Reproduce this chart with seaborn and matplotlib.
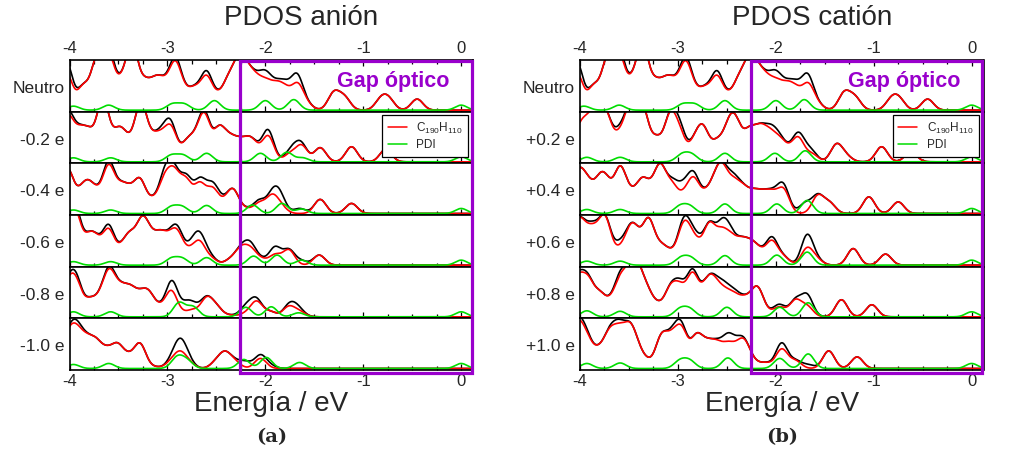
import numpy as np
import pandas as pd
import matplotlib
matplotlib.use("Agg")
import matplotlib.pyplot as plt
import matplotlib.transforms as mtransforms
from matplotlib.patches import Rectangle
from matplotlib.lines import Line2D
import seaborn as sns

# ---------------------------------------------------------------------------
# Electronic levels (energy in eV, weight) for each charge state.
# "_c" = projection on C190H110, "_pdi" = projection on PDI,
# "_extra" = PDI share that is added on top of C190H110 in the total DOS.
# ---------------------------------------------------------------------------
neutro_c = [(-4.03, 0.72), (-3.86, 0.45), (-3.72, 0.95), (-3.60, 1.0), (-3.47, 0.45),
            (-3.36, 1.2), (-3.23, 0.47), (-3.12, 0.48), (-3.03, 0.38), (-2.92, 0.85),
            (-2.82, 0.25), (-2.72, 0.35), (-2.60, 0.62), (-2.48, 0.22), (-2.37, 0.55),
            (-2.26, 0.9), (-2.16, 0.55), (-2.07, 0.4), (-1.98, 0.4), (-1.88, 0.38),
            (-1.79, 0.32), (-1.67, 0.48), (-1.57, 0.1), (-1.30, 0.34), (-1.19, 0.24),
            (-0.82, 0.2), (-0.74, 0.2), (-0.45, 0.22)]
neutro_extra = [(-4.03, 0.22), (-3.60, 0.1), (-2.92, 0.08), (-2.60, 0.09), (-2.00, 0.15),
                (-1.80, 0.06), (-1.69, 0.18)]
neutro_pdi = [(-3.96, 0.08), (-3.60, 0.10), (-2.95, 0.12), (-2.83, 0.12), (-2.52, 0.19),
              (-2.00, 0.19), (-1.71, 0.21), (0.0, 0.10)]

anion_m02_c = [(-4.02, 0.85), (-3.90, 0.5), (-3.80, 0.5), (-3.66, 1.2), (-3.54, 0.3),
               (-3.47, 0.45), (-3.38, 0.25), (-3.27, 1.1), (-3.15, 0.36), (-3.06, 0.38),
               (-2.96, 0.62), (-2.80, 0.35), (-2.71, 0.3), (-2.62, 0.85), (-2.47, 0.62),
               (-2.36, 0.38), (-2.26, 0.32), (-2.16, 0.35), (-2.09, 0.15), (-1.97, 0.5),
               (-1.75, 0.15), (-1.63, 0.32), (-1.44, 0.28), (-1.12, 0.3), (-0.77, 0.25)]
anion_m02_extra = [(-4.0, 0.08), (-3.0, 0.12), (-2.62, 0.05), (-1.98, 0.12), (-1.70, 0.12)]
anion_m02_pdi = [(-3.96, 0.08), (-3.58, 0.08), (-2.96, 0.13), (-2.84, 0.13), (-2.60, 0.17),
                 (-2.05, 0.17), (-1.78, 0.19), (-1.62, 0.08), (0.0, 0.10)]

anion_m04_c = [(-4.02, 0.85), (-3.89, 0.3), (-3.81, 0.45), (-3.72, 0.3), (-3.60, 0.88),
               (-3.48, 0.42), (-3.39, 0.35), (-3.28, 0.62), (-3.15, 0.22), (-3.03, 0.6),
               (-2.93, 0.7), (-2.81, 0.6), (-2.67, 0.55), (-2.54, 0.45), (-2.43, 0.15),
               (-2.33, 0.45), (-2.20, 0.08), (-2.06, 0.2), (-1.93, 0.33), (-1.84, 0.12),
               (-1.44, 0.28), (-1.12, 0.2)]
anion_m04_extra = [(-3.60, 0.08), (-3.0, 0.15), (-2.77, 0.08), (-2.62, 0.1), (-2.50, 0.08),
                   (-2.08, 0.05), (-1.86, 0.22), (-1.65, 0.1)]
anion_m04_pdi = [(-3.96, 0.07), (-3.58, 0.07), (-2.96, 0.13), (-2.85, 0.13), (-2.60, 0.16),
                 (-2.13, 0.17), (-1.83, 0.2), (-1.63, 0.09), (0.0, 0.10)]

anion_m06_c = [(-4.0, 0.6), (-3.93, 0.75), (-3.80, 0.45), (-3.72, 0.35), (-3.60, 0.66),
               (-3.47, 0.25), (-3.38, 0.5), (-3.26, 0.78), (-3.17, 0.4), (-3.07, 0.5),
               (-2.97, 0.38), (-2.89, 0.5), (-2.77, 0.22), (-2.67, 0.42), (-2.55, 0.12),
               (-2.36, 0.1), (-2.25, 0.3), (-2.15, 0.28), (-2.04, 0.1), (-1.90, 0.2),
               (-1.76, 0.3), (-1.45, 0.2)]
anion_m06_extra = [(-3.93, 0.08), (-3.60, 0.08), (-2.90, 0.08), (-2.72, 0.15), (-2.62, 0.1),
                   (-2.16, 0.1), (-1.90, 0.15), (-1.63, 0.08)]
anion_m06_pdi = [(-3.96, 0.07), (-3.58, 0.07), (-2.96, 0.13), (-2.85, 0.13), (-2.60, 0.15),
                 (-2.12, 0.18), (-1.88, 0.2), (-1.63, 0.1), (0.0, 0.10)]

anion_m08_c = [(-4.02, 0.55), (-3.93, 0.6), (-3.79, 0.3), (-3.68, 0.3), (-3.59, 0.78),
               (-3.48, 0.45), (-3.38, 0.45), (-3.28, 0.32), (-3.19, 0.4), (-3.08, 0.15),
               (-2.96, 0.5), (-2.84, 0.05), (-2.74, 0.12), (-2.60, 0.35), (-2.50, 0.18),
               (-2.36, 0.03), (-2.20, 0.06), (-2.09, 0.3), (-1.95, 0.1), (-1.76, 0.2),
               (-1.65, 0.1)]
anion_m08_extra = [(-3.94, 0.08), (-3.59, 0.05), (-2.94, 0.2), (-2.80, 0.18), (-2.70, 0.06),
                   (-2.20, 0.13), (-2.12, 0.05), (-1.70, 0.1)]
anion_m08_pdi = [(-3.96, 0.10), (-3.58, 0.10), (-2.88, 0.28), (-2.74, 0.2), (-2.20, 0.19),
                 (-1.94, 0.2), (-1.66, 0.08), (0.0, 0.10)]

anion_m10_c = [(-4.02, 0.55), (-3.93, 0.6), (-3.83, 0.45), (-3.73, 0.45), (-3.62, 0.3),
               (-3.51, 0.42), (-3.40, 0.2), (-3.28, 0.48), (-3.13, 0.03), (-2.96, 0.12),
               (-2.87, 0.28), (-2.78, 0.1), (-2.50, 0.12), (-2.41, 0.28), (-2.31, 0.12),
               (-2.05, 0.2)]
anion_m10_extra = [(-3.93, 0.08), (-2.90, 0.15), (-2.83, 0.15), (-2.20, 0.12), (-2.05, 0.06),
                   (-1.95, 0.05)]
anion_m10_pdi = [(-3.96, 0.08), (-3.60, 0.10), (-2.90, 0.22), (-2.80, 0.15), (-2.22, 0.18),
                 (-1.99, 0.22), (-1.65, 0.12), (0.0, 0.10)]

cation_p02_c = [(-4.02, 0.5), (-3.93, 0.6), (-3.82, 1.0), (-3.72, 0.7), (-3.59, 0.45),
                (-3.48, 1.0), (-3.36, 1.0), (-3.22, 0.42), (-3.08, 0.85), (-2.98, 0.5),
                (-2.83, 0.35), (-2.74, 0.6), (-2.60, 0.36), (-2.48, 0.6), (-2.40, 0.6),
                (-2.27, 0.55), (-2.16, 0.55), (-2.06, 0.45), (-1.96, 0.35), (-1.87, 0.15),
                (-1.77, 0.45), (-1.63, 0.15), (-1.38, 0.34), (-1.28, 0.1), (-0.92, 0.3),
                (-0.62, 0.2)]
cation_p02_extra = [(-3.97, 0.25), (-3.88, 0.1), (-3.60, 0.07), (-2.98, 0.12), (-2.02, 0.1),
                    (-1.77, 0.06), (-1.68, 0.1)]
cation_p02_pdi = [(-3.93, 0.09), (-3.59, 0.09), (-2.96, 0.14), (-2.86, 0.14), (-2.52, 0.17),
                  (-2.01, 0.17), (-1.70, 0.22), (0.0, 0.10)]

cation_p04_c = [(-4.02, 0.75), (-3.92, 0.5), (-3.80, 0.55), (-3.72, 0.45), (-3.59, 0.85),
                (-3.48, 0.3), (-3.37, 0.55), (-3.28, 0.32), (-3.18, 0.85), (-3.06, 0.5),
                (-2.94, 0.28), (-2.84, 0.62), (-2.72, 0.3), (-2.62, 0.5), (-2.54, 0.7),
                (-2.43, 0.5), (-2.33, 0.4), (-2.22, 0.35), (-2.12, 0.3), (-2.03, 0.3),
                (-1.92, 0.45), (-1.57, 0.35), (-1.45, 0.2), (-1.05, 0.33), (-0.75, 0.23)]
cation_p04_extra = [(-3.0, 0.08), (-2.94, 0.12), (-2.84, 0.08), (-2.45, 0.08), (-1.94, 0.1),
                    (-1.70, 0.2)]
cation_p04_pdi = [(-3.93, 0.08), (-3.59, 0.08), (-2.98, 0.14), (-2.88, 0.14), (-2.52, 0.19),
                  (-1.99, 0.19), (-1.68, 0.26), (0.0, 0.10)]

cation_p06_c = [(-4.02, 0.8), (-3.92, 0.45), (-3.84, 0.45), (-3.74, 0.85), (-3.60, 0.25),
                (-3.49, 0.55), (-3.42, 0.4), (-3.30, 0.85), (-3.18, 0.3), (-3.09, 0.2),
                (-2.96, 0.5), (-2.90, 0.45), (-2.81, 0.35), (-2.68, 0.75), (-2.56, 0.55),
                (-2.46, 0.45), (-2.35, 0.4), (-2.25, 0.35), (-2.16, 0.2), (-2.04, 0.45),
                (-1.92, 0.15), (-1.68, 0.33), (-1.58, 0.1), (-1.21, 0.33), (-0.88, 0.22)]
cation_p06_extra = [(-3.88, 0.05), (-3.60, 0.1), (-2.93, 0.08), (-2.81, 0.08), (-2.52, 0.2),
                    (-2.04, 0.07), (-1.68, 0.26)]
cation_p06_pdi = [(-3.93, 0.08), (-3.59, 0.08), (-2.97, 0.14), (-2.87, 0.14), (-2.52, 0.19),
                  (-1.99, 0.2), (-1.68, 0.26), (0.0, 0.10)]

cation_p08_c = [(-4.03, 0.7), (-3.92, 0.65), (-3.80, 0.4), (-3.69, 0.22), (-3.59, 0.6),
                (-3.50, 0.55), (-3.42, 0.8), (-3.32, 0.45), (-3.21, 0.2), (-3.08, 0.5),
                (-2.98, 0.5), (-2.85, 0.8), (-2.72, 0.45), (-2.64, 0.55), (-2.54, 0.4),
                (-2.44, 0.35), (-2.34, 0.25), (-2.26, 0.2), (-2.18, 0.5), (-2.06, 0.05),
                (-1.96, 0.18), (-1.80, 0.32), (-1.68, 0.2), (-1.33, 0.34), (-1.02, 0.24)]
cation_p08_extra = [(-3.97, 0.05), (-3.59, 0.07), (-2.98, 0.06), (-2.85, 0.06), (-2.54, 0.1),
                    (-2.42, 0.05), (-1.97, 0.05), (-1.68, 0.22)]
cation_p08_pdi = [(-3.93, 0.12), (-3.59, 0.11), (-2.98, 0.15), (-2.88, 0.15), (-2.50, 0.19),
                  (-1.96, 0.19), (-1.67, 0.28), (0.0, 0.10)]

cation_p10_c = [(-4.03, 0.8), (-3.93, 0.5), (-3.81, 0.3), (-3.70, 0.6), (-3.60, 0.6),
                (-3.50, 0.6), (-3.43, 0.35), (-3.33, 0.15), (-3.17, 0.6), (-3.06, 0.5),
                (-2.96, 0.7), (-2.81, 0.6), (-2.70, 0.4), (-2.60, 0.4), (-2.49, 0.38),
                (-2.40, 0.25), (-2.32, 0.45), (-2.22, 0.1), (-2.10, 0.1), (-1.94, 0.38),
                (-1.80, 0.15), (-1.46, 0.35), (-1.17, 0.23)]
cation_p10_extra = [(-3.97, 0.07), (-3.62, 0.08), (-3.0, 0.1), (-2.49, 0.15), (-2.40, 0.05),
                    (-1.94, 0.12), (-1.67, 0.07)]
cation_p10_pdi = [(-3.93, 0.10), (-3.59, 0.11), (-2.98, 0.15), (-2.88, 0.15), (-2.49, 0.21),
                  (-1.96, 0.2), (-1.67, 0.29), (0.0, 0.10)]

anion_labels = ["Neutro", "-0.2 e", "-0.4 e", "-0.6 e", "-0.8 e", "-1.0 e"]
cation_labels = ["Neutro", "+0.2 e", "+0.4 e", "+0.6 e", "+0.8 e", "+1.0 e"]
tick_values = [-4, -3, -2, -1, 0]
tick_labels = ["-4", "-3", "-2", "-1", "0"]
gap_window = (-2.255, 0.106)

C_LABEL = r"C$_{190}$H$_{110}$"
SERIES = ["Total", C_LABEL, "PDI"]
PALETTE = {"Total": "black", C_LABEL: "#ff0000", "PDI": "#00dd00"}
PURPLE = "#9900cc"

SIGMA = 0.06
GRID = np.arange(-4.2, 0.35, 0.004)
XLIM = (-4.0, 0.121)

sns.set_theme(style="ticks")
plt.rcParams["font.family"] = ["Liberation Sans", "DejaVu Sans"]
plt.rcParams["mathtext.fontset"] = "custom"
plt.rcParams["mathtext.rm"] = "Liberation Sans"
plt.rcParams["mathtext.it"] = "Liberation Sans:italic"
plt.rcParams["axes.unicode_minus"] = False


def broaden(levels):
    pos = np.array([p for p, _ in levels])
    amp = np.array([a for _, a in levels])
    return (amp * np.exp(-(GRID[:, None] - pos) ** 2 / (2 * SIGMA ** 2))).sum(axis=1)


W, H = 1011, 454
fig = plt.figure(figsize=(W / 100, H / 100), dpi=100)


def fx(px):
    return px / W


def fy(py):
    return 1 - py / H


TOP_PX, BOTTOM_PX = 60, 370


def draw_panel(x0, x1, rows, labels, title, tag):
    gs = fig.add_gridspec(len(rows), 1, left=fx(x0), right=fx(x1),
                          top=fy(TOP_PX), bottom=fy(BOTTOM_PX), hspace=0)
    axes = []
    for i, ((c, pdi, extra), label) in enumerate(zip(rows, labels)):
        ax = fig.add_subplot(gs[i])
        c_dos = broaden(c)
        pdi_dos = broaden(pdi)
        total = c_dos + broaden(extra)
        df = pd.DataFrame({
            "Energía": np.tile(GRID, 3),
            "PDOS": np.concatenate([total, c_dos, pdi_dos]),
            "serie": np.repeat(SERIES, GRID.size),
        })
        sns.lineplot(data=df, x="Energía", y="PDOS", hue="serie", hue_order=SERIES,
                     palette=PALETTE, linewidth=1.2, estimator=None, legend=False, ax=ax)
        ax.set_xlim(*XLIM)
        ax.set_ylim(-0.03, 1.0)
        ax.set_xlabel("")
        ax.set_ylabel("")
        ax.set_yticks([])
        ax.set_xticks(tick_values)
        ax.set_xticklabels(tick_labels)
        ax.set_xticks(np.arange(-4.0, 0.01, 0.25), minor=True)
        last = i == len(rows) - 1
        ax.tick_params(axis="x", which="both", direction="in", top=(i == 0), bottom=True,
                       labeltop=(i == 0), labelbottom=last, labelsize=12, width=0.9,
                       color="black", pad=3)
        ax.tick_params(axis="x", which="major", length=4.5)
        ax.tick_params(axis="x", which="minor", length=3)
        for sp in ax.spines.values():
            sp.set_linewidth(1.2)
            sp.set_color("black")
        ax.text(-0.012, 0.45, label, transform=ax.transAxes, ha="right", va="center",
                fontsize=12.5)
        axes.append(ax)

    top = axes[0]
    top.text(-0.69, 0.58, "Gap óptico", color=PURPLE, fontsize=15.5, fontweight="bold",
             ha="center", va="center")

    handles = [Line2D([], [], color=PALETTE[C_LABEL], lw=1.1),
               Line2D([], [], color=PALETTE["PDI"], lw=1.1)]
    leg = axes[1].legend(handles, [C_LABEL, "PDI"], loc="upper right",
                         bbox_to_anchor=(0.988, 0.93), borderaxespad=0, fontsize=8.5,
                         handlelength=1.6, handletextpad=0.8, labelspacing=0.3,
                         borderpad=0.45, fancybox=False, framealpha=1, edgecolor="black")
    leg.get_frame().set_linewidth(0.9)

    trans = mtransforms.blended_transform_factory(top.transData, fig.transFigure)
    rect = Rectangle((gap_window[0], fy(372.5)), gap_window[1] - gap_window[0],
                     fy(TOP_PX + 0.5) - fy(372.5), transform=trans, fill=False,
                     edgecolor=PURPLE, linewidth=2.3, clip_on=False, zorder=5)
    fig.add_artist(rect)

    cx = fx((x0 + x1) / 2)
    fig.text(cx + fx(30), fy(18), title, ha="center", va="center", fontsize=20)
    fig.text(cx, fy(404), "Energía / eV", ha="center", va="center", fontsize=20)
    fig.text(cx, fy(437), tag, ha="center", va="center", fontsize=14,
             fontweight="bold", family="DejaVu Serif")


anion_rows = [(neutro_c, neutro_pdi, neutro_extra),
              (anion_m02_c, anion_m02_pdi, anion_m02_extra),
              (anion_m04_c, anion_m04_pdi, anion_m04_extra),
              (anion_m06_c, anion_m06_pdi, anion_m06_extra),
              (anion_m08_c, anion_m08_pdi, anion_m08_extra),
              (anion_m10_c, anion_m10_pdi, anion_m10_extra)]
cation_rows = [(neutro_c, neutro_pdi, neutro_extra),
               (cation_p02_c, cation_p02_pdi, cation_p02_extra),
               (cation_p04_c, cation_p04_pdi, cation_p04_extra),
               (cation_p06_c, cation_p06_pdi, cation_p06_extra),
               (cation_p08_c, cation_p08_pdi, cation_p08_extra),
               (cation_p10_c, cation_p10_pdi, cation_p10_extra)]

draw_panel(69.5, 473, anion_rows, anion_labels, "PDOS anión", "(a)")
draw_panel(580, 983.5, cation_rows, cation_labels, "PDOS catión", "(b)")

fig.savefig("out.png", dpi=100)
